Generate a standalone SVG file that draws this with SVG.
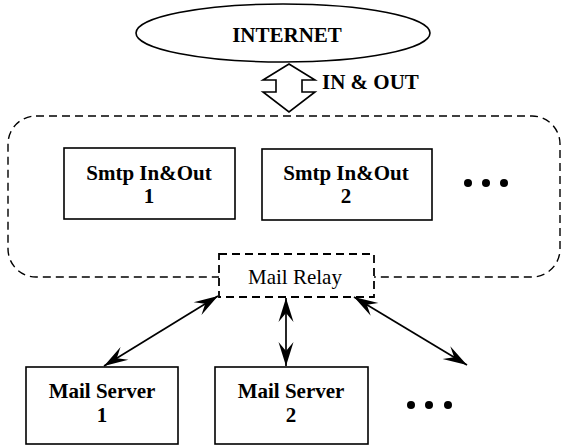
<svg xmlns="http://www.w3.org/2000/svg" width="563" height="445" viewBox="0 0 563 445">
  <style>
    .box { fill: #ffffff; stroke: #000000; stroke-width: 1.6; }
    .dash { fill: none; stroke: #000000; stroke-width: 1.4; stroke-dasharray: 8 5; }
    .relay { fill: #ffffff; stroke: #000000; stroke-width: 1.8; stroke-dasharray: 8 5; }
    .lbl { font-family: "Liberation Serif", "Times New Roman", serif; font-size: 21px; font-weight: bold; fill: #000000; text-anchor: middle; }
    .reg { font-family: "Liberation Serif", "Times New Roman", serif; font-size: 21px; fill: #000000; text-anchor: middle; }
    .link { fill: none; stroke: #000000; stroke-width: 1.7; marker-start: url(#head); marker-end: url(#head); }
    .dot { fill: #000000; }
  </style>
  <defs>
    <marker id="head" markerUnits="userSpaceOnUse" viewBox="-26 -9 28 18" refX="0" refY="0" markerWidth="28" markerHeight="18" orient="auto-start-reverse">
      <path d="M0,0 L-24,-7.5 L-15,0 L-24,7.5 Z" fill="#000000"/>
    </marker>
  </defs>

  <rect width="563" height="445" fill="#ffffff"/>

  <!-- internet cloud -->
  <g id="internet">
    <ellipse cx="283" cy="33" rx="147" ry="29" fill="#ffffff" stroke="#000000" stroke-width="1.6"/>
    <text class="lbl" x="287" y="42">INTERNET</text>
  </g>

  <!-- two-way block arrow into the gateway cluster -->
  <g id="in-out">
    <path d="M289,64 L315,80 L302,80 L302,92 L315,92 L289,112 L263,92 L276,92 L276,80 L263,80 Z" fill="#ffffff" stroke="#000000" stroke-width="1.6" stroke-linejoin="miter"/>
    <text class="lbl" x="322" y="89" style="text-anchor:start">IN &amp; OUT</text>
  </g>

  <!-- gateway cluster boundary -->
  <g id="cluster">
    <rect class="dash" x="8" y="116" width="552" height="161" rx="28" ry="28"/>
  </g>

  <g id="smtp1">
    <rect class="box" x="64" y="148" width="171" height="71"/>
    <text class="lbl" x="149" y="180">Smtp In&amp;Out</text>
    <text class="lbl" x="149" y="203">1</text>
  </g>

  <g id="smtp2">
    <rect class="box" x="262" y="149" width="170" height="71"/>
    <text class="lbl" x="346" y="180">Smtp In&amp;Out</text>
    <text class="lbl" x="346" y="203">2</text>
  </g>

  <g id="smtp-more">
    <circle class="dot" cx="468" cy="183" r="4"/>
    <circle class="dot" cx="486" cy="183" r="4"/>
    <circle class="dot" cx="504" cy="183" r="4"/>
  </g>

  <g id="mail-relay">
    <rect class="relay" x="219" y="254" width="155" height="43"/>
    <text class="reg" x="295" y="284">Mail Relay</text>
  </g>

  <!-- relay to mail servers -->
  <g id="connectors">
    <line class="link" x1="218" y1="296" x2="104" y2="366"/>
    <line class="link" x1="286" y1="298" x2="286" y2="366"/>
    <line class="link" x1="354" y1="297" x2="467" y2="365"/>
  </g>

  <g id="mailserver1">
    <rect class="box" x="26" y="367" width="152" height="77"/>
    <text class="lbl" x="102" y="398">Mail Server</text>
    <text class="lbl" x="102" y="422">1</text>
  </g>

  <g id="mailserver2">
    <rect class="box" x="215" y="367" width="153" height="77"/>
    <text class="lbl" x="291" y="398">Mail Server</text>
    <text class="lbl" x="291" y="422">2</text>
  </g>

  <g id="mailserver-more">
    <circle class="dot" cx="411" cy="405" r="4"/>
    <circle class="dot" cx="429" cy="405" r="4"/>
    <circle class="dot" cx="448" cy="405" r="4"/>
  </g>
</svg>
